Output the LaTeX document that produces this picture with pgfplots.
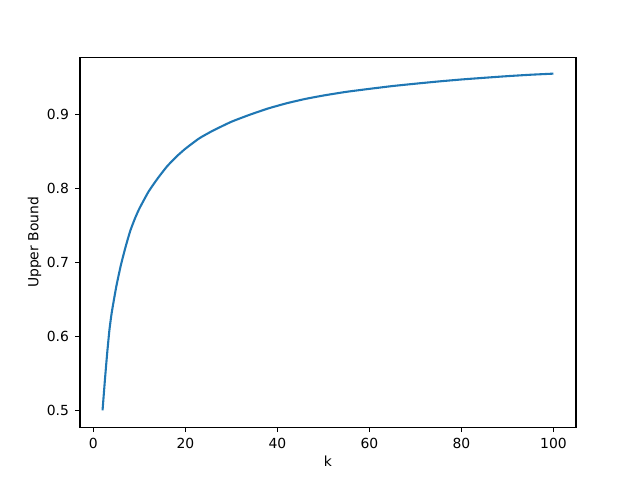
\documentclass[border=0pt]{standalone}
\usepackage{fontspec}
\setmainfont{DejaVu Sans}
\usepackage{pgfplots}
\pgfplotsset{compat=1.18}
\definecolor{mplblue}{HTML}{1F77B4}

\begin{document}
\begin{tikzpicture}
\begin{axis}[
    scale only axis,
    width=357.12pt, height=266.1pt,
    xmin=-2.9, xmax=104.9,
    ymin=0.4773, ymax=0.9773,
    xtick={0,20,40,60,80,100},
    ytick={0.5,0.6,0.7,0.8,0.9},
    yticklabel style={/pgf/number format/fixed, /pgf/number format/precision=1, /pgf/number format/fixed zerofill},
    /pgf/number format/assume math mode=true,
    xtick pos=bottom, ytick pos=left,
    tick align=outside,
    major tick length=3.5pt,
    every tick/.style={black, line width=0.8pt},
    axis line style={line width=0.8pt},
    ticklabel style={font=\fontsize{10}{12}\selectfont},
    xticklabel style={yshift=-1pt},
    yticklabel style={xshift=-1pt},
    label style={font=\fontsize{10}{12}\selectfont},
    xlabel={k},
    ylabel={Upper Bound},
    xlabel style={yshift=2pt},
    ylabel style={yshift=-3pt},
]
\coordinate (sw) at (rel axis cs:0,0);
\coordinate (ne) at (rel axis cs:1,1);
\addplot[color=mplblue, line width=1.5pt, smooth, tension=0.3] coordinates {
    (2,0.500) (2.5,0.540) (3,0.577) (3.5,0.609) (4,0.6325) (5,0.668)
    (6,0.697) (7,0.721) (8,0.7425) (9,0.759) (10,0.773) (12,0.796)
    (14,0.814) (16,0.830) (18,0.843) (20,0.854) (23,0.868) (26,0.8785)
    (30,0.8905) (34,0.900) (38,0.9085) (42,0.9155) (46,0.9213) (50,0.926)
    (55,0.931) (60,0.935) (65,0.9388) (70,0.942) (75,0.945) (80,0.9477)
    (85,0.950) (90,0.9522) (95,0.9541) (100,0.9556)
};
\end{axis}
\useasboundingbox ([xshift=-57.6pt,yshift=-38.02pt]sw) rectangle ([xshift=46.08pt,yshift=41.47pt]ne);
\end{tikzpicture}
\end{document}
